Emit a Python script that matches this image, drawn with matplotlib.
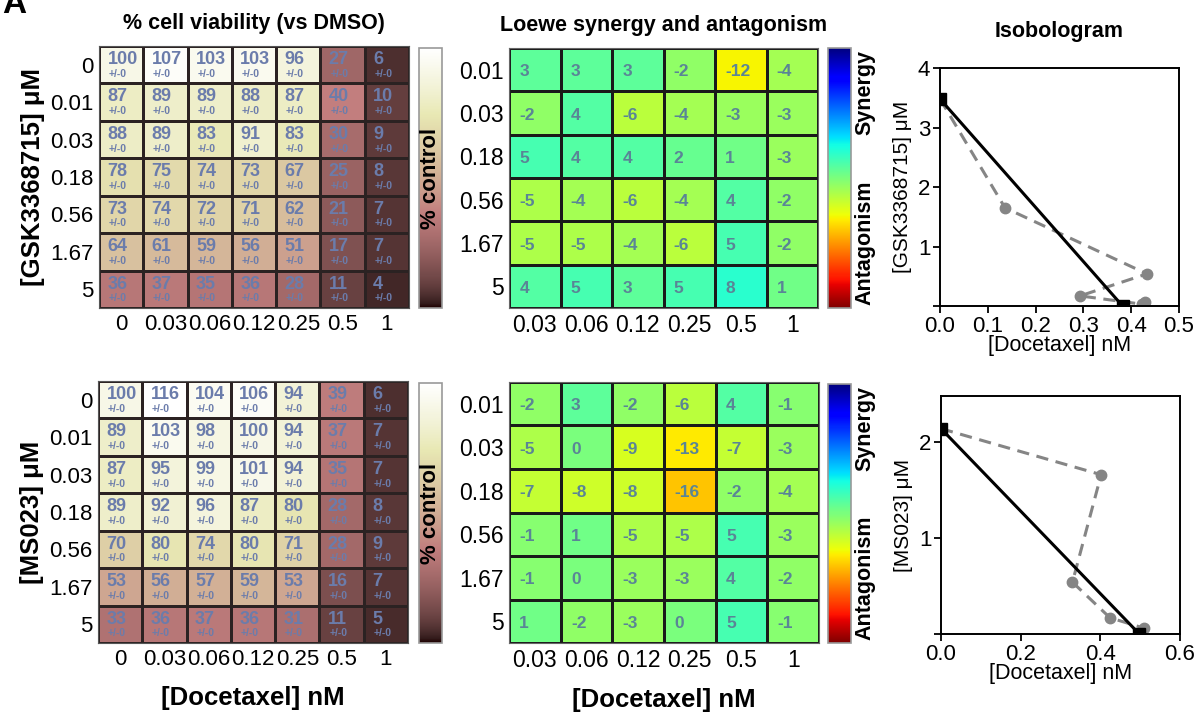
import numpy as np
import matplotlib
matplotlib.use('Agg')
from matplotlib import pyplot as plt

plt.rcParams['font.family'] = ['Liberation Sans', 'DejaVu Sans']

# dose labels
doc_all = ['0', '0.03', '0.06', '0.12', '0.25', '0.5', '1']
doc_comb = ['0.03', '0.06', '0.12', '0.25', '0.5', '1']
inh_all = ['0', '0.01', '0.03', '0.18', '0.56', '1.67', '5']
inh_comb = ['0.01', '0.03', '0.18', '0.56', '1.67', '5']

# % viability, rows = inhibitor dose, cols = docetaxel dose
via_gsk = [[100, 107, 103, 103, 96, 27, 6],
           [87, 89, 89, 88, 87, 40, 10],
           [88, 89, 83, 91, 83, 30, 9],
           [78, 75, 74, 73, 67, 25, 8],
           [73, 74, 72, 71, 62, 21, 7],
           [64, 61, 59, 56, 51, 17, 7],
           [36, 37, 35, 36, 28, 11, 4]]
via_ms = [[100, 116, 104, 106, 94, 39, 6],
          [89, 103, 98, 100, 94, 37, 7],
          [87, 95, 99, 101, 94, 35, 7],
          [89, 92, 96, 87, 80, 28, 8],
          [70, 80, 74, 80, 71, 28, 9],
          [53, 56, 57, 59, 53, 16, 7],
          [33, 36, 37, 36, 31, 11, 5]]

# Loewe synergy scores
loewe_gsk = [[3, 3, 3, -2, -12, -4],
             [-2, 4, -6, -4, -3, -3],
             [5, 4, 4, 2, 1, -3],
             [-5, -4, -6, -4, 4, -2],
             [-5, -5, -4, -6, 5, -2],
             [4, 5, 3, 5, 8, 1]]
loewe_ms = [[-2, 3, -2, -6, 4, -1],
            [-5, 0, -9, -13, -7, -3],
            [-7, -8, -8, -16, -2, -4],
            [-1, 1, -5, -5, 5, -3],
            [-1, 0, -3, -3, 4, -2],
            [1, -2, -3, 0, 5, -1]]

# isobologram points
iso_gsk_x = [0, 0.136, 0.433, 0.293, 0.423, 0.428]
iso_gsk_y = [3.48, 1.65, 0.54, 0.17, 0.03, 0.06]
iso_gsk_ends = ([0, 0.382], [3.48, 0])
iso_ms_x = [0, 0.402, 0.33, 0.424, 0.51]
iso_ms_y = [2.14, 1.66, 0.54, 0.17, 0.06]
iso_ms_ends = ([0, 0.498], [2.14, 0])

W, H = 1198, 713
fig = plt.figure(figsize=(W / 100, H / 100), dpi=100)


def rect(l, t, r, b):
    return [l / W, 1 - b / H, (r - l) / W, (b - t) / H]


txt_col = '#6b7cab'


def viability(box, cbox, data, ylab, show_xlabel):
    ax = fig.add_axes(rect(*box))
    d = np.array(data)
    m = ax.pcolormesh(d, cmap='pink', vmin=0, vmax=110,
                      edgecolors='#2b2222', linewidth=0.8)
    ax.invert_yaxis()
    for i in range(d.shape[0]):
        for j in range(d.shape[1]):
            ax.text(j + 0.19, i + 0.36, str(d[i, j]), color=txt_col,
                    fontsize=13, fontweight='bold', ha='left', va='center')
            ax.text(j + 0.22, i + 0.74, '+/-0', color=txt_col,
                    fontsize=7.5, fontweight='bold', ha='left', va='center')
    ax.set_xticks(np.arange(d.shape[1]) + 0.5)
    ax.set_xticklabels(doc_all, fontsize=16)
    ax.set_yticks(np.arange(d.shape[0]) + 0.5)
    ax.set_yticklabels(inh_all, fontsize=16)
    ax.tick_params(length=0, pad=4)
    for s in ax.spines.values():
        s.set_color('#555555')
        s.set_linewidth(0.8)
    ax.set_ylabel(ylab, fontsize=18.5, fontweight='bold', labelpad=4)
    if show_xlabel:
        ax.set_xlabel('[Docetaxel] nM', fontsize=18.5, fontweight='bold',
                      labelpad=12)
    cax = fig.add_axes(rect(*cbox))
    cb = fig.colorbar(m, cax=cax)
    cb.set_ticks([])
    cb.outline.set_edgecolor('#999999')
    cb.outline.set_linewidth(1.2)
    cax.text(0.52, 0.5, '% control', rotation=90, fontsize=16,
             fontweight='bold', ha='center', va='center',
             transform=cax.transAxes)
    return ax


def loewe(box, cbox, data, show_xlabel):
    ax = fig.add_axes(rect(*box))
    d = np.array(data)
    m = ax.pcolormesh(d, cmap='jet_r', vmin=-40, vmax=40,
                      edgecolors='#1a1a1a', linewidth=0.9)
    ax.invert_yaxis()
    for i in range(d.shape[0]):
        for j in range(d.shape[1]):
            ax.text(j + 0.2, i + 0.55, str(d[i, j]), color='#5a8596',
                    fontsize=12.5, fontweight='bold', ha='left', va='center')
    ax.set_xticks(np.arange(d.shape[1]) + 0.5)
    ax.set_xticklabels(doc_comb, fontsize=16.5)
    ax.set_yticks(np.arange(d.shape[0]) + 0.5)
    ax.set_yticklabels(inh_comb, fontsize=16.5)
    ax.tick_params(length=0, pad=4)
    for s in ax.spines.values():
        s.set_color('#666666')
        s.set_linewidth(0.8)
    if show_xlabel:
        ax.set_xlabel('[Docetaxel] nM', fontsize=18.5, fontweight='bold',
                      labelpad=12)
    cax = fig.add_axes(rect(*cbox))
    cb = fig.colorbar(m, cax=cax)
    cb.set_ticks([])
    cb.outline.set_edgecolor('#999999')
    cb.outline.set_linewidth(1.2)
    cax.text(1.6, 0.83, 'Synergy', rotation=90, fontsize=15.5,
             fontweight='bold', ha='center', va='center',
             transform=cax.transAxes)
    cax.text(1.6, 0.25, 'Antagonism', rotation=90, fontsize=15.5,
             fontweight='bold', ha='center', va='center',
             transform=cax.transAxes)
    return ax


def isobologram(box, xs, ys, ends, xlim, ylim, xt, yt, ylab):
    ax = fig.add_axes(rect(*box))
    ax.plot(ends[0], ends[1], color='black', lw=2.2, marker='s', ms=9,
            zorder=3)
    ax.plot(xs, ys, color='#858585', lw=2.2, ls=(0, (4, 2.5)), marker='o',
            ms=7.5, zorder=2)
    ax.set_xlim(*xlim)
    ax.set_ylim(*ylim)
    ax.set_xticks(xt)
    ax.set_xticklabels(['%.1f' % v for v in xt], fontsize=16)
    ax.set_yticks(yt)
    ax.set_yticklabels([''] + [str(v) for v in yt[1:]], fontsize=16)
    ax.tick_params(direction='out', length=5, width=1.3, pad=2)
    for s in ax.spines.values():
        s.set_linewidth(1.4)
    ax.set_xlabel('[Docetaxel] nM', fontsize=15.5, labelpad=-1)
    ax.set_ylabel(ylab, fontsize=15, labelpad=4)
    return ax


a = viability((99, 46, 409, 308), (419, 48, 442, 308), via_gsk,
              '[GSK3368715] μM', False)
a.set_title('% cell viability (vs DMSO)', fontsize=15.5, fontweight='bold',
            pad=12)
viability((98, 381, 408, 643), (419, 383, 442, 643), via_ms,
          '[MS023] μM', True)

a = loewe((509, 48, 818, 308), (828, 48, 851, 308), loewe_gsk, False)
a.set_title('Loewe synergy and antagonism', fontsize=15.5, fontweight='bold',
            pad=12)
loewe((509, 382, 819, 643), (828, 384, 851, 643), loewe_ms, True)

a = isobologram((940, 68, 1179, 306), iso_gsk_x, iso_gsk_y, iso_gsk_ends,
                (0, 0.5), (0, 4), [0, 0.1, 0.2, 0.3, 0.4, 0.5],
                [0, 1, 2, 3, 4], '[GSK3368715] μM')
a.set_title('Isobologram', fontsize=15.5, fontweight='bold', pad=22)
isobologram((941, 396, 1180, 634), iso_ms_x, iso_ms_y, iso_ms_ends,
            (0, 0.6), (0, 2.48), [0, 0.2, 0.4, 0.6], [0, 1, 2],
            '[MS023] μM')

fig.text(2 / W, 1 - 13 / H, 'A', fontsize=24, fontweight='bold',
         ha='left', va='baseline')

fig.savefig('out.png', dpi=100)
